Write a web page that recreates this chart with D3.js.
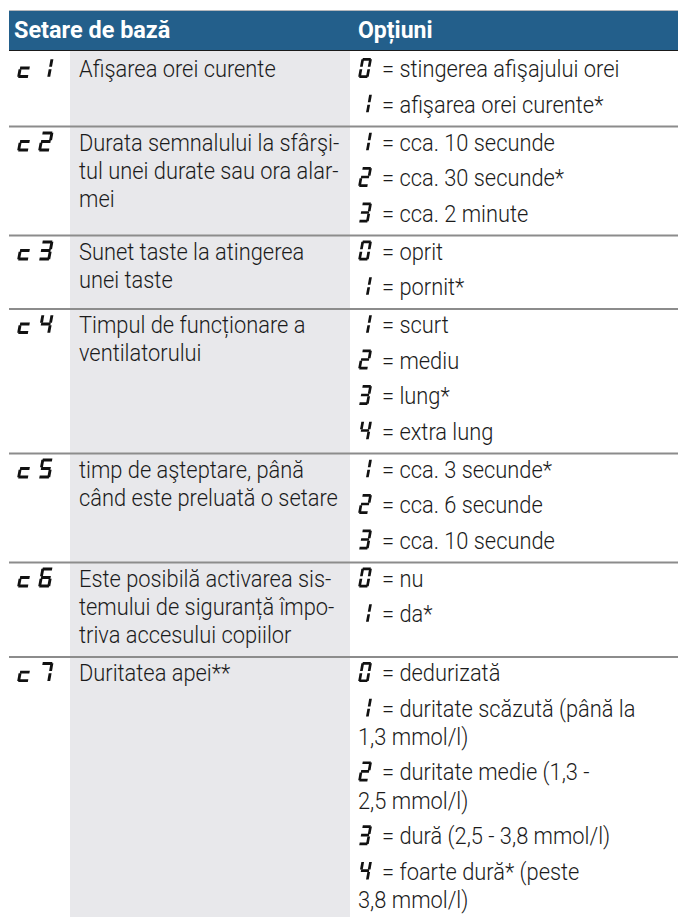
<!DOCTYPE html>
<html><head><meta charset="utf-8">
<script src="https://cdn.jsdelivr.net/npm/d3@7"></script>
<style>html,body{margin:0;padding:0;background:#fff;} svg{display:block;}</style>
</head><body><svg id="chart" width="678" height="917"></svg>
<script>
// ---- data ----
const headers = ["Setare de bază", "Opțiuni"];
const codes = ["c1", "c2", "c3", "c4", "c5", "c6", "c7"];
const descriptions = [
  ["Afişarea orei curente"],
  ["Durata semnalului la sfârşi-", "tul unei durate sau ora alar-", "mei"],
  ["Sunet taste la atingerea", "unei taste"],
  ["Timpul de funcționare a", "ventilatorului"],
  ["timp de aşteptare, până", "când este preluată o setare"],
  ["Este posibilă activarea sis-", "temului de siguranță împo-", "triva accesului copiilor"],
  ["Duritatea apei**"]
];
const optionDigits = [
  ["0", "1"], ["1", "2", "3"], ["0", "1"], ["1", "2", "3", "4"], ["1", "2", "3"], ["0", "1"], ["0", "1", "2", "3", "4"]
];
const optionTexts = [
  [["stingerea afişajului orei"], ["afişarea orei curente*"]],
  [["cca. 10 secunde"], ["cca. 30 secunde*"], ["cca. 2 minute"]],
  [["oprit"], ["pornit*"]],
  [["scurt"], ["mediu"], ["lung*"], ["extra lung"]],
  [["cca. 3 secunde*"], ["cca. 6 secunde"], ["cca. 10 secunde"]],
  [["nu"], ["da*"]],
  [["dedurizată"], ["duritate scăzută (până la", "1,3 mmol/l)"], ["duritate medie (1,3 -", "2,5 mmol/l)"], ["dură (2,5 - 3,8 mmol/l)"], ["foarte dură* (peste", "3,8 mmol/l)"]]
];
// seven-segment map
const segMap = {"0":"abcdef","1":"bc","2":"abged","3":"abgcd","4":"fgbc","5":"afgcd","6":"afgedc","7":"abc","c":"ged"};

// ---- layout ----
const W = 678, H = 917;
const svg = d3.select("#chart");
const x = d3.scaleOrdinal().domain(["left", "desc", "opt", "right"]).range([9, 70, 350, 678]);
const y = d3.scaleLinear().domain([0, H]).range([0, H]);

const headerTop = 11, headerBottom = 50.5;
const firstOff = 24, optGap = 35.5, lineGap = 28.3, bottomPad = 14;
const font = "Roboto, 'Liberation Sans', sans-serif";
const SX = 0.93, FS = 23.5;

// compute rows
let curTop = 53;
const rows = codes.map((c, i) => {
  const base = curTop + firstOff;
  const opts = [];
  let b = base;
  optionDigits[i].forEach((d, j) => {
    if (j > 0) b += optGap;
    const start = b;
    const lines = optionTexts[i][j].map((t, k) => ({t, y: start + lineGap * k, k}));
    b = lines[lines.length - 1].y;
    opts.push({d, lines, y: lines[0].y});
  });
  const descLines = descriptions[i].map((t, k) => ({t, y: base + k * lineGap}));
  const last = Math.max(b, descLines[descLines.length - 1].y);
  const sep = i < codes.length - 1 ? last + bottomPad : H + 5;
  const r = {code: c, top: curTop, base, opts, descLines, sep};
  curTop = sep;
  return r;
});

// grey description column
svg.append("rect").attr("x", x("desc")).attr("y", y(headerBottom)).attr("width", x("opt") - x("desc")).attr("height", H - headerBottom).attr("fill", "#e8e8eb");

// header
svg.append("line").attr("x1", x("left")).attr("x2", x("right")).attr("y1", y(10.5)).attr("y2", y(10.5)).attr("stroke", "#b4b8bd").attr("stroke-width", 1);
svg.append("rect").attr("x", x("left")).attr("y", y(headerTop)).attr("width", x("right") - x("left")).attr("height", headerBottom - headerTop).attr("fill", "#235f8b");
svg.append("line").attr("x1", x("left")).attr("x2", x("right")).attr("y1", y(headerBottom)).attr("y2", y(headerBottom)).attr("stroke", "#1a1a1a").attr("stroke-width", 1.2);

function addText(g, tx, ty, str, opt = {}) {
  const gg = g.append("g").attr("transform", `translate(${tx},${ty}) scale(${opt.sx || SX},1)`);
  gg.append("text").attr("x", 0).attr("y", 0)
    .attr("font-family", font).attr("font-size", opt.fs || FS)
    .attr("font-weight", opt.fw || 300).attr("fill", opt.fill || "#1b1b1b").text(str);
}
addText(svg, 14, y(37.5), headers[0], {fw: 700, fs: 23, sx: 1.02, fill: "#fff"});
addText(svg, 358, y(37.5), headers[1], {fw: 700, fs: 23, sx: 1.0, fill: "#fff"});

// seven segment glyph
function glyph(g, ch, gx, gy, opt = {}) {
  const w = opt.w || 10.5, h = opt.h || 20, s = opt.s || 3.6, t = opt.t || 2.7, gap = 1.2;
  const sk = (px, py) => [gx + px + s * (1 - py / h), gy - h + py];
  const half = h / 2;
  const rects = {
    a: [gap, 0, w - gap, t],
    d: [gap, h - t, w - gap, h],
    g: [gap, half - t / 2, w - gap, half + t / 2],
    f: [0, gap, t, half - gap],
    b: [w - t, gap, w, half - gap],
    e: [0, half + gap, t, h - gap],
    c: [w - t, half + gap, w, h - gap]
  };
  const segs = segMap[ch].split("");
  g.selectAll(null).data(segs).enter().append("path")
    .attr("d", sg => {
      const [x0, y0, x1, y1] = rects[sg];
      const p = [sk(x0, y0), sk(x1, y0), sk(x1, y1), sk(x0, y1)];
      return "M" + p.map(q => q.join(",")).join("L") + "Z";
    })
    .attr("fill", "#111");
}

const rowG = svg.selectAll("g.row").data(rows).enter().append("g").attr("class", "row");
rowG.each(function (r, i) {
  const g = d3.select(this);
  const gy = y(r.base + 1);
  glyph(g, r.code[0], 17, gy, {w: 12, h: 20, t: 2.9});
  glyph(g, r.code[1], 38, gy, {w: 12, h: 20, t: 2.9});
  r.descLines.forEach(l => addText(g, 79, y(l.y), l.t));
  r.opts.forEach(o => {
    glyph(g, o.d, 358, y(o.y + 1), {w: 10.5, h: 20});
    o.lines.forEach(l => {
      if (l.k === 0) addText(g, 382, y(l.y), "= " + l.t);
      else addText(g, 358, y(l.y), l.t);
    });
  });
  if (i < rows.length - 1) {
    g.append("line").attr("x1", x("left")).attr("x2", x("right"))
      .attr("y1", y(r.sep)).attr("y2", y(r.sep)).attr("stroke", "#8c8c8c").attr("stroke-width", 2);
  }
});
</script></body></html>
